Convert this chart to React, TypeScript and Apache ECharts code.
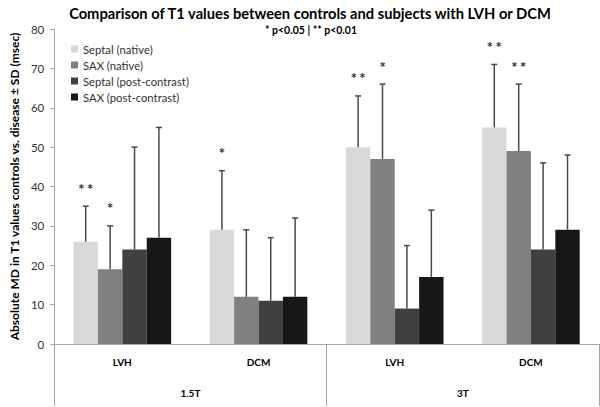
import React, { useEffect, useRef } from "react";
import * as echarts from "echarts";

const categories = ["LVH", "DCM", "LVH", "DCM"];
const fieldGroups = ["1.5T", "3T"];
const seriesNames = ["Septal (native)", "SAX (native)", "Septal (post-contrast)", "SAX (post-contrast)"];
const seriesColors = ["#d9d9d9", "#808080", "#404040", "#171717"];

const septalNative = [26, 29, 50, 55];
const saxNative = [19, 12, 47, 49];
const septalPost = [24, 11, 9, 24];
const saxPost = [27, 12, 17, 29];

const septalNativeUpper = [35, 44, 63, 71];
const saxNativeUpper = [30, 29, 66, 66];
const septalPostUpper = [50, 27, 25, 46];
const saxPostUpper = [55, 32, 34, 48];

const septalNativeSig = ["**", "*", "**", "**"];
const saxNativeSig = ["*", "", "*", "**"];
const septalPostSig = ["", "", "", ""];
const saxPostSig = ["", "", "", ""];

const values = [septalNative, saxNative, septalPost, saxPost];
const uppers = [septalNativeUpper, saxNativeUpper, septalPostUpper, saxPostUpper];
const sigs = [septalNativeSig, saxNativeSig, septalPostSig, saxPostSig];

const GAP = 0.283;
const FONT = "Lato, 'Open Sans', sans-serif";

export default function App() {
  const ref = useRef<HTMLDivElement>(null);
  useEffect(() => {
    if (!ref.current) return;
    const chart = echarts.init(ref.current, null, { renderer: "svg" });
    const barSeries = values.map((vals, s) => ({
      type: "bar",
      name: seriesNames[s],
      data: vals,
      xAxisIndex: 0,
      barGap: "0%",
      barCategoryGap: GAP * 100 + "%",
      itemStyle: { color: seriesColors[s] },
      z: 2,
    }));
    const errSeries = values.map((vals, s) => ({
      type: "custom",
      name: "err" + s,
      xAxisIndex: 0,
      z: 3,
      encode: { x: 0, y: 1 },
      data: vals.map((v, c) => [c, v, uppers[s][c]]),
      renderItem: (params: any, api: any) => {
        const c = api.value(0);
        const v = api.value(1);
        const up = api.value(2);
        const base = api.coord([c, v]);
        const top = api.coord([c, up]);
        const band = api.size([1, 0])[0];
        const barW = (band * (1 - GAP)) / 4;
        const x = base[0] + (s - 1.5) * barW;
        const lineStyle = { stroke: "#4a4a4a", lineWidth: 1.5 };
        const children: any[] = [
          { type: "line", shape: { x1: x, y1: base[1], x2: x, y2: top[1] }, style: lineStyle },
          { type: "line", shape: { x1: x - 3, y1: top[1], x2: x + 3, y2: top[1] }, style: lineStyle },
        ];
        const star = sigs[s][params.dataIndex];
        if (star) {
          children.push({
            type: "text",
            x: x,
            y: top[1] - 13,
            style: {
              text: star.split("").join(" "),
              fill: "#333333",
              font: "bold 10px 'DejaVu Sans', sans-serif",
              align: "center",
              verticalAlign: "bottom",
            },
          });
        }
        return { type: "group", children };
      },
    }));
    chart.setOption({
      animation: false,
      backgroundColor: "#ffffff",
      title: [
        {
          text: "Comparison of T1 values between controls and subjects with LVH or DCM",
          left: 305,
          textAlign: "center",
          top: 0,
          textStyle: { fontFamily: FONT, fontWeight: "bold", fontSize: 14.7, color: "#000000" },
        },
        {
          text: "* p<0.05 | ** p<0.01",
          left: 306,
          textAlign: "center",
          top: 19,
          textStyle: { fontFamily: FONT, fontWeight: "bold", fontSize: 10.5, color: "#000000" },
        },
      ],
      legend: {
        data: seriesNames,
        orient: "vertical",
        left: 66,
        top: 38,
        itemWidth: 7,
        itemHeight: 7,
        itemGap: 4,
        icon: "rect",
        textStyle: { fontFamily: FONT, fontSize: 11.3, color: "#333333", lineHeight: 12 },
      },
      grid: { left: 41, right: 1, top: 29, bottom: 63, containLabel: false },
      xAxis: [
        {
          type: "category",
          data: categories,
          position: "bottom",
          axisLine: { show: true, lineStyle: { color: "#a6a6a6", width: 1 } },
          axisTick: { show: false },
          axisLabel: { margin: 13, fontFamily: FONT, fontWeight: "bold", fontSize: 10, color: "#000000", interval: 0 },
        },
        {
          type: "category",
          data: fieldGroups,
          position: "bottom",
          axisLine: { show: false },
          axisTick: { show: true, length: 62, interval: 0, lineStyle: { color: "#a6a6a6", width: 1 } },
          axisLabel: { margin: 44, fontFamily: FONT, fontWeight: "bold", fontSize: 10, color: "#000000", interval: 0 },
        },
      ],
      yAxis: {
        type: "value",
        min: 0,
        max: 80,
        interval: 10,
        name: "Absolute MD in T1 values controls vs. disease ± SD (msec)",
        nameLocation: "middle",
        nameGap: 27,
        nameTextStyle: { fontFamily: FONT, fontWeight: "bold", fontSize: 12, color: "#000000" },
        axisLine: { show: true, lineStyle: { color: "#a6a6a6", width: 1 } },
        axisTick: { show: true, length: 4, lineStyle: { color: "#a6a6a6" } },
        axisLabel: { margin: 10, fontFamily: FONT, fontSize: 11.5, color: "#333333" },
        splitLine: { show: false },
      },
      series: [...barSeries, ...errSeries],
    });
    return () => chart.dispose();
  }, []);
  return <div ref={ref} style={{ width: 600, height: 407, position: "absolute", left: 0, top: 0 }} />;
}
